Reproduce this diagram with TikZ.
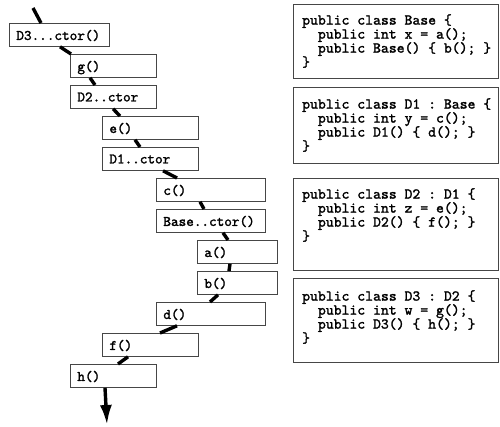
\documentclass[tikz,border=0pt]{standalone}
\usepackage{fontspec}
\setmonofont{lmmono10-regular.otf}[BoldFont=lmmono10-regular.otf, BoldFeatures={FakeBold=1.6}]
\usepackage{tikz}
\usetikzlibrary{arrows.meta, positioning, calc}
\definecolor{boxgray}{RGB}{70, 70, 70}

\begin{document}
\begin{tikzpicture}[x=1pt, y=-1pt,
    callbox/.style={draw=boxgray, fill=white, line width=0.8pt, anchor=north west,
      minimum height=23pt, inner xsep=7pt, text depth=0pt, align=left,
      font=\ttfamily\bfseries\fontsize{14.5}{15}\selectfont},
    codebox/.style={draw=boxgray, fill=white, line width=0.8pt, anchor=north west,
      minimum width=205pt},
    codetext/.style={anchor=north west, inner sep=0pt, align=left,
      font=\ttfamily\bfseries\fontsize{15}{14}\selectfont},
    thread/.style={line width=3.4pt, black}]
  \useasboundingbox (0,0) rectangle (500,427);

  % call sequence
  \node[callbox, minimum width=100pt, text width=86pt] (d3ctor) at (9,23) {D3...ctor()};
  \node[callbox, minimum width=86pt, text width=72pt] (gcall) at (70,54) {g()};
  \node[callbox, minimum width=86pt, text width=72pt] (d2ctor) at (70,85) {D2..ctor};
  \node[callbox, minimum width=96pt, text width=82pt] (ecall) at (102,116) {e()};
  \node[callbox, minimum width=96pt, text width=82pt] (d1ctor) at (102,147) {D1..ctor};
  \node[callbox, minimum width=109pt, text width=95pt] (ccall) at (156,178) {c()};
  \node[callbox, minimum width=109pt, text width=95pt] (basector) at (156,209) {Base..ctor()};
  \node[callbox, minimum width=80pt, text width=66pt] (acall) at (197,240) {a()};
  \node[callbox, minimum width=80pt, text width=66pt] (bcall) at (197,271) {b()};
  \node[callbox, minimum width=109pt, text width=95pt] (dcall) at (156,302) {d()};
  \node[callbox, minimum width=96pt, text width=82pt] (fcall) at (102,333) {f()};
  \node[callbox, minimum width=86pt, text width=72pt] (hcall) at (70,364) {h()};

  % thread of execution
  \coordinate (threadstart) at (33,8);
  \coordinate (threadend) at (107,425);
  \draw[thread] (threadstart) -- ([xshift=32pt]d3ctor.north west);
  \draw[thread] ([xshift=51pt]d3ctor.south west) -- ([xshift=1pt]gcall.north west);
  \draw[thread] ([xshift=20pt]gcall.south west) -- ([xshift=25pt]d2ctor.north west);
  \draw[thread] ([xshift=43pt]d2ctor.south west) -- ([xshift=18pt]ecall.north west);
  \draw[thread] ([xshift=33pt]ecall.south west) -- ([xshift=38pt]d1ctor.north west);
  \draw[thread] ([xshift=61pt]d1ctor.south west) -- ([xshift=21pt]ccall.north west);
  \draw[thread] ([xshift=44pt]ccall.south west) -- ([xshift=48pt]basector.north west);
  \draw[thread] ([xshift=67pt]basector.south west) -- ([xshift=31pt]acall.north west);
  \draw[thread] ([xshift=33pt]acall.south west) -- ([xshift=32pt]bcall.north west);
  \draw[thread] ([xshift=21pt]bcall.south west) -- ([xshift=54pt]dcall.north west);
  \draw[thread] ([xshift=21pt]dcall.south west) -- ([xshift=58pt]fcall.north west);
  \draw[thread] ([xshift=26pt]fcall.south west) -- ([xshift=48pt]hcall.north west);
  \draw[thread, -{Latex[length=20pt, width=12pt]}] ([xshift=35pt]hcall.south west) -- (threadend);

  % class sources
  \node[codebox, minimum height=74pt] (basebox) at (293,4) {};
  \node[codetext] (basecode) at ([xshift=9pt, yshift=-10pt]basebox.north west) {%
    public class Base \{\\
    ~~public int x = a();\\
    ~~public Base() \{ b(); \}\\
    \}};

  \node[codebox, minimum height=76pt] (d1box) at (293,87) {};
  \node[codetext] (d1code) at ([xshift=9pt, yshift=-11pt]d1box.north west) {%
    public class D1 : Base \{\\
    ~~public int y = c();\\
    ~~public D1() \{ d(); \}\\
    \}};

  \node[codebox, minimum height=92pt] (d2box) at (293,178) {};
  \node[codetext] (d2code) at ([xshift=9pt, yshift=-10pt]d2box.north west) {%
    public class D2 : D1 \{\\
    ~~public int z = e();\\
    ~~public D2() \{ f(); \}\\
    \}};

  \node[codebox, minimum height=84pt] (d3box) at (293,278) {};
  \node[codetext] (d3code) at ([xshift=9pt, yshift=-12pt]d3box.north west) {%
    public class D3 : D2 \{\\
    ~~public int w = g();\\
    ~~public D3() \{ h(); \}\\
    \}};
\end{tikzpicture}
\end{document}
